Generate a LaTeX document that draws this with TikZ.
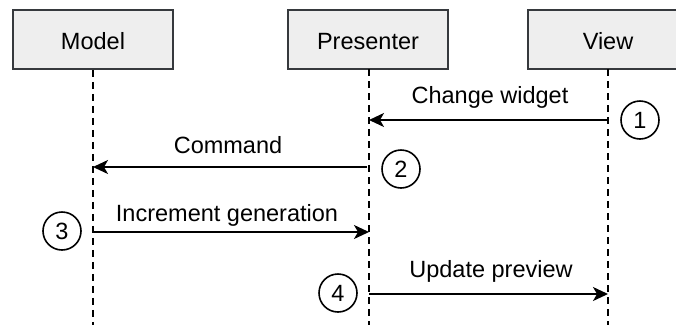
\documentclass[tikz,border=0pt]{standalone}
\usepackage{fontspec}
\setmainfont{Liberation Sans}
\usetikzlibrary{arrows.meta}
\definecolor{boxfill}{HTML}{EEEEEE}
\definecolor{boxline}{HTML}{36393D}
\tikzset{
  actor/.style={draw=boxline, fill=boxfill, line width=1.8bp, minimum width=160bp, minimum height=59bp, inner sep=0pt},
  lifeline/.style={line width=1.6bp, dash pattern=on 7bp off 5bp},
  msg/.style={line width=1.8bp, -{Stealth[length=15bp,width=14bp,inset=4bp]}},
  lbl/.style={anchor=base, inner sep=0pt},
  num/.style={draw, circle, line width=1.6bp, minimum size=38bp, inner sep=0pt},
  every node/.style={font=\fontsize{23.5bp}{28bp}\selectfont}
}
\begin{document}
\begin{tikzpicture}[x=1bp, y=-1bp]
\useasboundingbox (0,0) rectangle (676,325);
\begin{scope}
\clip (0,0) rectangle (676,325);
\node[actor] (model) at (93,39.5) {};
\node[actor] (presenter) at (368,39.5) {};
\node[actor] (view) at (608,39.5) {};
\end{scope}
\node[lbl] (tm) at (93,49) {Model};
\node[lbl] (tp) at (368,49) {Presenter};
\node[lbl] (tv) at (608,49) {View};
% lifeline ends
\coordinate (mEnd) at (93,325);
\coordinate (pEnd) at (369,325);
\coordinate (vEnd) at (608,325);
\draw[lifeline] (model.south) ++(0,0) -- (mEnd);
\draw[lifeline] (369,69) -- (pEnd);
\draw[lifeline] (608,69) -- (vEnd);
% message points
\coordinate (v1) at (608,120);
\coordinate (p1) at (369,120);
\coordinate (p2) at (367,167);
\coordinate (m2) at (93,167);
\coordinate (m3) at (93,232);
\coordinate (p3) at (369,232);
\coordinate (p4) at (369,294);
\coordinate (v4) at (608,294);
\draw[msg] (v1) -- (p1);
\draw[msg] (p2) -- (m2);
\draw[msg] (m3) -- (p3);
\draw[msg] (p4) -- (v4);
\node[lbl] (l1) at (490,103) {Change widget};
\node[lbl] (l2) at (228,153) {Command};
\node[lbl] (l3) at (227,221) {Increment generation};
\node[lbl] (l4) at (491,277) {Update preview};
\node[num] (n1) at (640,120) {1};
\node[num] (n2) at (401,169) {2};
\node[num] (n3) at (62,231) {3};
\node[num] (n4) at (338,293) {4};
\end{tikzpicture}
\end{document}
